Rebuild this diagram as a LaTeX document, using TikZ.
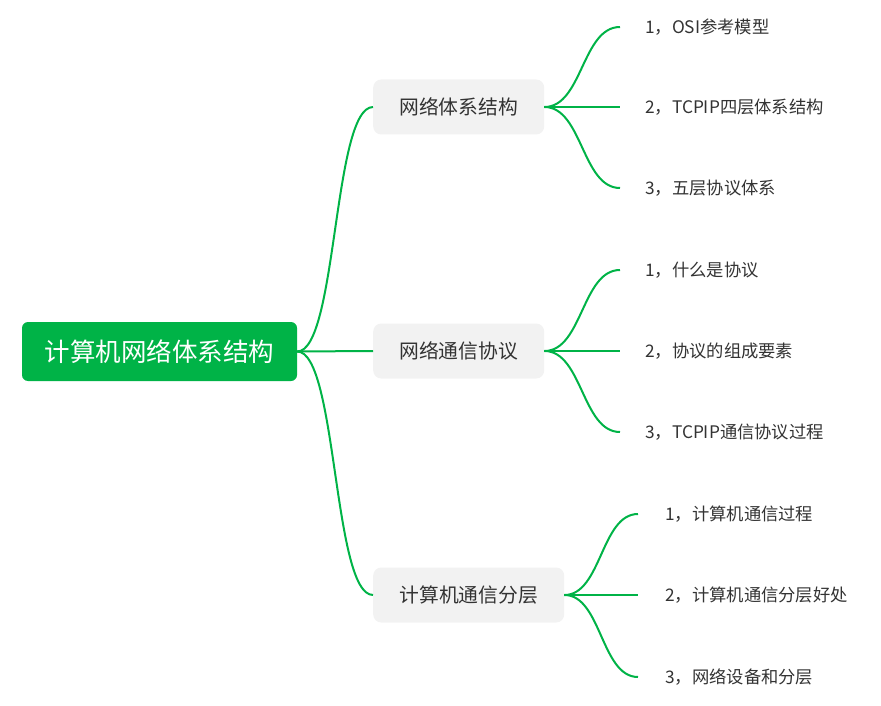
\documentclass[tikz,border=0pt]{standalone}
\usepackage{fontspec}
\newfontfamily\cjk{Noto Sans CJK SC}
\definecolor{mindgreen}{HTML}{00B347}
\definecolor{boxgray}{HTML}{F2F2F2}
\definecolor{textgray}{HTML}{333333}
\tikzset{
  rootbox/.style={fill=mindgreen, text=white, rounded corners=6pt,
    minimum width=275pt, minimum height=59pt, inner sep=0pt,
    font=\cjk\fontsize{25.5}{30}\selectfont},
  branchbox/.style={fill=boxgray, text=textgray, rounded corners=8pt,
    minimum width=171pt, minimum height=55pt, inner sep=0pt,
    font=\cjk\fontsize{19.8}{23}\selectfont},
  leaftext/.style={anchor=west, inner sep=0pt, text=textgray,
    font=\cjk\fontsize{17.3}{20}\selectfont},
  link/.style={draw=mindgreen, line width=2pt},
}
\begin{document}
\begin{tikzpicture}[x=1pt,y=-1pt]
\useasboundingbox (0,0) rectangle (881,706);

\node[rootbox] (root) at (159.5,351.5) {计算机网络体系结构};

\node[branchbox, anchor=west] (b1) at (373,107) {网络体系结构};
\node[branchbox, anchor=west] (b2) at (373,351) {网络通信协议};
\node[branchbox, anchor=west, minimum width=191pt] (b3) at (373,595) {计算机通信分层};

\draw[link] (root.east) .. controls +(40,0) and +(-40,0) .. (b1.west);
\draw[link] (root.east) -- (b2.west);
\draw[link] (root.east) .. controls +(40,0) and +(-40,0) .. (b3.west);

% first group
\coordinate (e11) at (620,27);
\coordinate (e12) at (620,107);
\coordinate (e13) at (620,188);
\node[leaftext] (l11) at (645,27) {1，OSI参考模型};
\node[leaftext] (l12) at (645,107) {2，TCPIP四层体系结构};
\node[leaftext] (l13) at (645,188) {3，五层协议体系};
\draw[link] (b1.east) .. controls +(38,0) and +(-38,0) .. (e11);
\draw[link] (b1.east) -- (e12);
\draw[link] (b1.east) .. controls +(38,0) and +(-38,0) .. (e13);

% second group
\coordinate (e21) at (620,270);
\coordinate (e22) at (620,351);
\coordinate (e23) at (620,432);
\node[leaftext] (l21) at (645,270) {1，什么是协议};
\node[leaftext] (l22) at (645,351) {2，协议的组成要素};
\node[leaftext] (l23) at (645,432) {3，TCPIP通信协议过程};
\draw[link] (b2.east) .. controls +(38,0) and +(-38,0) .. (e21);
\draw[link] (b2.east) -- (e22);
\draw[link] (b2.east) .. controls +(38,0) and +(-38,0) .. (e23);

% third group
\coordinate (e31) at (638,514);
\coordinate (e32) at (638,595);
\coordinate (e33) at (638,677);
\node[leaftext] (l31) at (665,514) {1，计算机通信过程};
\node[leaftext] (l32) at (665,595) {2，计算机通信分层好处};
\node[leaftext] (l33) at (665,677) {3，网络设备和分层};
\draw[link] (b3.east) .. controls +(37,0) and +(-37,0) .. (e31);
\draw[link] (b3.east) -- (e32);
\draw[link] (b3.east) .. controls +(37,0) and +(-37,0) .. (e33);
\end{tikzpicture}
\end{document}
